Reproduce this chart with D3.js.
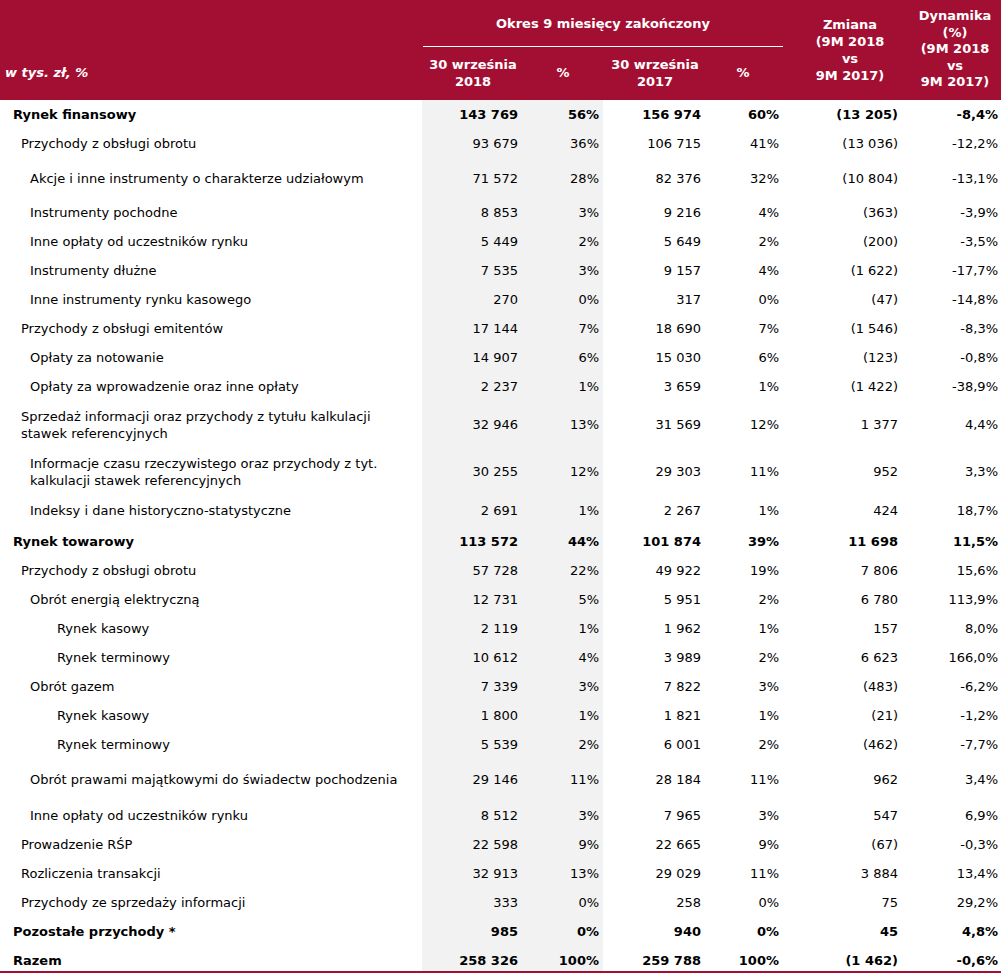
<!DOCTYPE html>
<html><head><meta charset="utf-8">
<script src="https://cdn.jsdelivr.net/npm/d3@7"></script>
<style>
html,body{margin:0;padding:0;background:#fff;}
svg{display:block;font-family:"DejaVu Sans",Verdana,sans-serif;}
</style></head><body>
<script>
// ---- data ----
const labels = [
  "Rynek finansowy","Przychody z obsługi obrotu","Akcje i inne instrumenty o charakterze udziałowym",
  "Instrumenty pochodne","Inne opłaty od uczestników rynku","Instrumenty dłużne",
  "Inne instrumenty rynku kasowego","Przychody z obsługi emitentów","Opłaty za notowanie",
  "Opłaty za wprowadzenie oraz inne opłaty",
  "Sprzedaż informacji oraz przychody z tytułu kalkulacji|stawek referencyjnych",
  "Informacje czasu rzeczywistego oraz przychody z tyt.|kalkulacji stawek referencyjnych",
  "Indeksy i dane historyczno-statystyczne","Rynek towarowy","Przychody z obsługi obrotu",
  "Obrót energią elektryczną","Rynek kasowy","Rynek terminowy","Obrót gazem","Rynek kasowy",
  "Rynek terminowy","Obrót prawami majątkowymi do świadectw pochodzenia",
  "Inne opłaty od uczestników rynku","Prowadzenie RŚP","Rozliczenia transakcji",
  "Przychody ze sprzedaży informacji","Pozostałe przychody *","Razem"
];
const levels = [0,1,2,2,2,2,2,1,2,2,1,2,2,0,1,2,3,3,2,3,3,2,2,1,1,1,0,0];
const boldRows = [1,0,0,0,0,0,0,0,0,0,0,0,0,1,0,0,0,0,0,0,0,0,0,0,0,0,1,1];
const value2018 = [143769,93679,71572,8853,5449,7535,270,17144,14907,2237,32946,30255,2691,113572,57728,12731,2119,10612,7339,1800,5539,29146,8512,22598,32913,333,985,258326];
const share2018 = [56,36,28,3,2,3,0,7,6,1,13,12,1,44,22,5,1,4,3,1,2,11,3,9,13,0,0,100];
const value2017 = [156974,106715,82376,9216,5649,9157,317,18690,15030,3659,31569,29303,2267,101874,49922,5951,1962,3989,7822,1821,6001,28184,7965,22665,29029,258,940,259788];
const share2017 = [60,41,32,4,2,4,0,7,6,1,12,11,1,39,19,2,1,2,3,1,2,11,3,9,11,0,0,100];
const change = [-13205,-13036,-10804,-363,-200,-1622,-47,-1546,-123,-1422,1377,952,424,11698,7806,6780,157,6623,-483,-21,-462,962,547,-67,3884,75,45,-1462];
const dynamics = [-8.4,-12.2,-13.1,-3.9,-3.5,-17.7,-14.8,-8.3,-0.8,-38.9,4.4,3.3,18.7,11.5,15.6,113.9,8.0,166.0,-6.2,-1.2,-7.7,3.4,6.9,-0.3,13.4,29.2,4.8,-0.6];
const groupHeader = "Okres 9 miesięcy zakończony";
const colHeaders = [["30 września","2018"],["%"],["30 września","2017"],["%"],["Zmiana","(9M 2018","vs","9M 2017)"],["Dynamika","(%)","(9M 2018","vs","9M 2017)"]];
const unitLabel = "w tys. zł, %";

// ---- layout ----
const W = 1001, H = 975, headH = 100;
const RED = "#a30f33";
const rowY = [114,143,178,212,241,270,299,328,357,386,424,471,510,541,570,599,628,657,686,715,744,779,815,844,873,902,931,960];
const colRight = [518,599,701,779,898,998];
const colCenter = [473,563,655,743,850,955];
const indent = [13,21,30,57];

const loc = d3.formatLocale({decimal:",",thousands:" ",grouping:[3],currency:["","zł"],minus:"-"});
const fInt = loc.format(",d");
const fChange = v => v < 0 ? "(" + fInt(-v) + ")" : fInt(v);
const fPct = v => v + "%";
const fDyn = v => loc.format(".1f")(v) + "%";

const svg = d3.select("body").append("svg").attr("width",W).attr("height",H);

// grey column band
const x = d3.scaleLinear().domain([0,W]).range([0,W]);
svg.append("rect").attr("x",x(422)).attr("y",headH).attr("width",x(603)-x(422)).attr("height",972-headH).attr("fill","#f2f2f2");

// header
svg.append("rect").attr("x",0).attr("y",0).attr("width",W).attr("height",headH).attr("fill",RED);
svg.append("line").attr("x1",423).attr("x2",783).attr("y1",46.5).attr("y2",46.5).attr("stroke","#fff").attr("stroke-width",1);
const hfs = 13;
svg.append("text").attr("x",603).attr("y",28).attr("text-anchor","middle").attr("fill","#fff")
  .attr("font-weight","bold").attr("font-size",hfs).text(groupHeader);
svg.append("text").attr("x",5).attr("y",77).attr("fill","#fff").attr("font-weight","bold")
  .attr("font-style","italic").attr("font-size",hfs).text(unitLabel);
colHeaders.forEach((lines,i)=>{
  const lh = i===5 ? 16.5 : 17;
  const base = i<4 ? (lines.length===1?77:69) : (i===4 ? 29 : 20);
  const t = svg.append("text").attr("text-anchor","middle").attr("fill","#fff").attr("font-weight","bold").attr("font-size",hfs);
  lines.forEach((l,j)=>{
    t.append("tspan").attr("x",colCenter[i]).attr("y",base + j*lh).text(l);
  });
});

// body rows
const fs = 13;
const rows = labels.map((l,i)=>({
  label:l, level:levels[i], bold:boldRows[i]===1, y:rowY[i],
  cells:[fInt(value2018[i]),fPct(share2018[i]),fInt(value2017[i]),fPct(share2017[i]),fChange(change[i]),fDyn(dynamics[i])]
}));
const g = svg.append("g").attr("font-size",fs).attr("fill","#000");
const rg = g.selectAll("g.row").data(rows).join("g").attr("class","row")
  .attr("font-weight",d=>d.bold?"bold":"normal");
rg.each(function(d){
  const sel = d3.select(this);
  const parts = d.label.split("|");
  const t = sel.append("text").attr("fill","#000");
  parts.forEach((p,j)=>{
    t.append("tspan").attr("x",indent[d.level])
      .attr("y",d.y + 5 + (j - (parts.length-1)/2)*17).text(p);
  });
  d.cells.forEach((c,k)=>{
    sel.append("text").attr("x",colRight[k]).attr("y",d.y+5).attr("text-anchor","end").attr("fill","#000").text(c);
  });
});

// bottom rule
svg.append("rect").attr("x",0).attr("y",971).attr("width",W).attr("height",2).attr("fill",RED);
</script>
</body></html>
